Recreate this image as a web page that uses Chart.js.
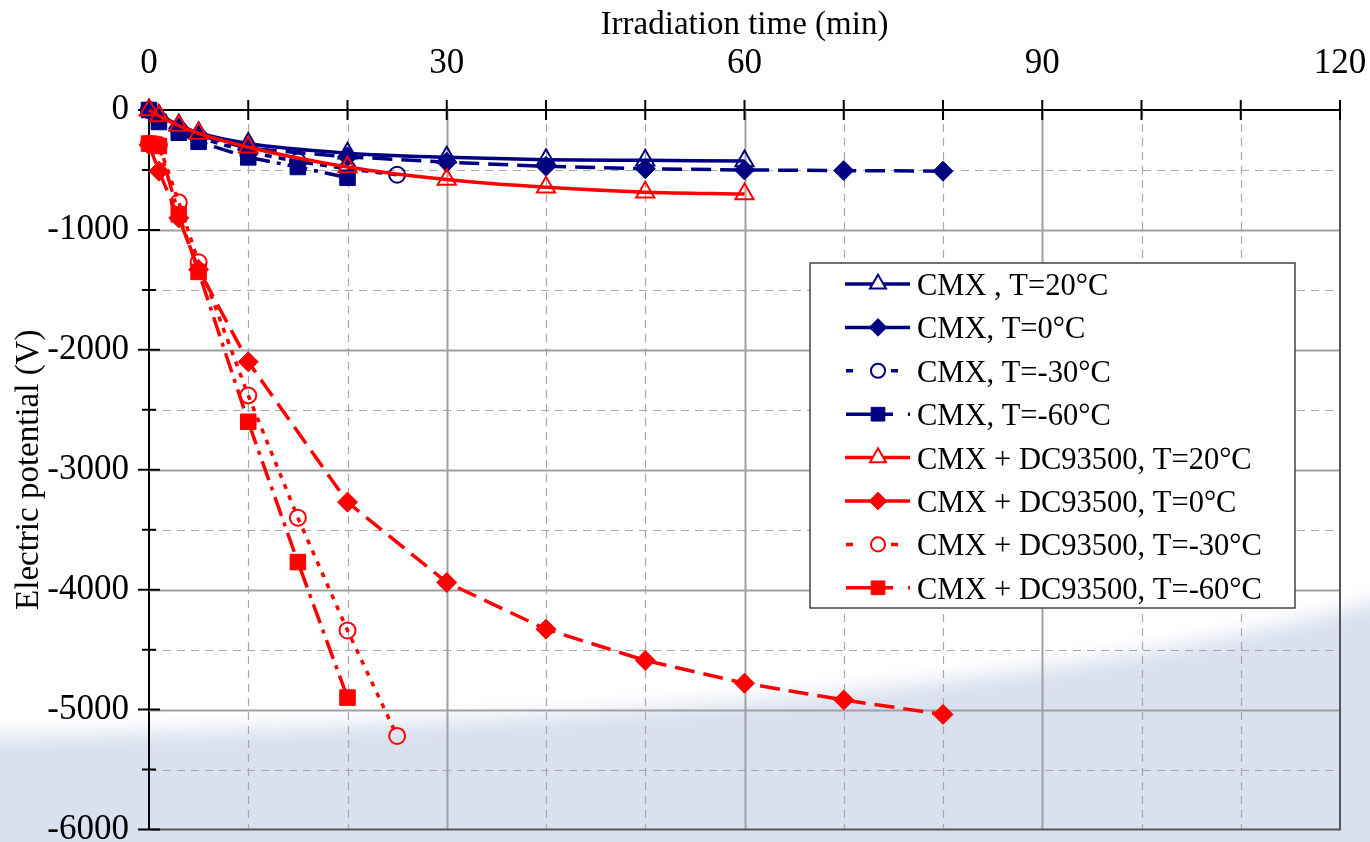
<!DOCTYPE html>
<html>
<head>
<meta charset="utf-8">
<title>Electric potential vs irradiation time</title>
<script src="https://cdn.jsdelivr.net/npm/chart.js@4.4.0/dist/chart.umd.min.js"></script>
<style>
  html, body { margin: 0; padding: 0; background: #fff; }
  #wrap { position: relative; width: 1370px; height: 842px; overflow: hidden; }
  #bg, #chart { position: absolute; left: 0; top: 0; }
</style>
</head>
<body>
<div id="wrap">
  <!-- slide background: soft blue sweep at the bottom -->
  <svg id="bg" width="1370" height="842">
    <defs>
      <filter id="soft" x="-10%" y="-20%" width="120%" height="140%"><feGaussianBlur stdDeviation="10"/></filter>
    </defs>
    <path d="M-60,738 C 500,724 1050,702 1430,586 L1430,920 L-60,920 Z" fill="#d9e0ee" filter="url(#soft)"/>
  </svg>
  <canvas id="chart" width="1370" height="842"></canvas>
</div>
<script>
const FONT = "'Liberation Serif', 'Times New Roman', serif";
const NAVY = '#000080';
const RED = '#ff0000';

// --- Data (time in min, potential in V) ---
const timeT20 = [0, 1, 3, 5, 10, 20, 30, 40, 50, 60];
const timeT0 = [0, 1, 3, 5, 10, 20, 30, 40, 50, 60, 70, 80];
const timeTm30 = [0, 1, 3, 5, 10, 15, 20, 25];
const timeTm60 = [0, 1, 3, 5, 10, 15, 20];

const cmxT20 = [0, -45, -125, -190, -280, -360, -395, -415, -420, -425];
const cmxT0 = [0, -70, -150, -210, -320, -390, -435, -470, -490, -500, -505, -510];
const cmxTm30 = [0, -80, -160, -230, -350, -430, -490, -540];
const cmxTm60 = [0, -100, -190, -265, -395, -475, -565];

const dcT20 = [0, -50, -130, -195, -310, -475, -580, -645, -685, -700];
const dcT0 = [-290, -510, -900, -1330, -2100, -3270, -3940, -4330, -4590, -4780, -4920, -5040];
const dcTm30 = [-280, -290, -770, -1270, -2380, -3400, -4340, -5220];
const dcTm60 = [-280, -300, -870, -1350, -2600, -3770, -4900];

const xTicks = [0, 30, 60, 90, 120];
const yTicks = [0, -1000, -2000, -3000, -4000, -5000, -6000];

// --- Series styling ---
const series = [
    { label: 'CMX , T=20°C', time: timeT20, values: cmxT20, color: NAVY, marker: 'triangle', radius: 10.5, open: true, dash: [], smooth: true, legend: 'solid' },
    { label: 'CMX, T=0°C', time: timeT0, values: cmxT0, color: NAVY, marker: 'rectRot', radius: 10, open: false, dash: [20, 9], smooth: false, legend: 'solid' },
    { label: 'CMX, T=-30°C', time: timeTm30, values: cmxTm30, color: NAVY, marker: 'circle', radius: 8, open: true, dash: [7, 7], smooth: false, legend: 'dot' },
    { label: 'CMX, T=-60°C', time: timeTm60, values: cmxTm60, color: NAVY, marker: 'rect', radius: 11, open: false, dash: [20, 7, 4, 7], smooth: false, legend: 'dashdot' },
    { label: 'CMX + DC93500, T=20°C', time: timeT20, values: dcT20, color: RED, marker: 'triangle', radius: 10.5, open: true, dash: [], smooth: true, legend: 'solid' },
    { label: 'CMX + DC93500, T=0°C', time: timeT0, values: dcT0, color: RED, marker: 'rectRot', radius: 10, open: false, dash: [20, 9], smooth: false, legend: 'solid' },
    { label: 'CMX + DC93500, T=-30°C', time: timeTm30, values: dcTm30, color: RED, marker: 'circle', radius: 8, open: true, dash: [5, 7], smooth: false, legend: 'dot' },
    { label: 'CMX + DC93500, T=-60°C', time: timeTm60, values: dcTm60, color: RED, marker: 'rect', radius: 11, open: false, dash: [20, 7, 4, 7], smooth: false, legend: 'dashdot' }
];

const datasets = series.map((s, i) => ({
    label: s.label,
    data: s.time.map((t, k) => ({ x: t, y: s.values[k] })),
    borderColor: s.color,
    backgroundColor: s.color,
    borderWidth: 3.5,
    borderDash: s.dash,
    pointStyle: s.marker,
    pointRadius: s.radius,
    pointBorderWidth: s.open ? 2 : 1,
    pointBackgroundColor: s.open ? 'rgba(0,0,0,0)' : s.color,
    pointBorderColor: s.color,
    tension: s.smooth ? 0.4 : 0,
    cubicInterpolationMode: s.smooth ? 'monotone' : 'default',
    clip: false,
    order: series.length - i   // later series on top, like the original
}));

// --- Grid lines, frame and crossing tick marks ---
const gridPlugin = {
    id: 'excelGrid',
    beforeDatasetsDraw(chart) {
        const { ctx, chartArea: a, scales: { x, y } } = chart;
        ctx.save();
        for (let v = 10; v < 120; v += 10) {
            const px = Math.round(x.getPixelForValue(v)) + 0.5;
            const major = v % 30 === 0;
            ctx.beginPath();
            ctx.strokeStyle = major ? '#a0a0a0' : '#a8a8a8';
            ctx.lineWidth = major ? 2 : 1.2;
            ctx.setLineDash(major ? [] : [8, 6]);
            ctx.moveTo(px, a.top);
            ctx.lineTo(px, a.bottom);
            ctx.stroke();
        }
        for (let v = -500; v > -6000; v -= 500) {
            const py = Math.round(y.getPixelForValue(v)) + 0.5;
            const major = v % 1000 === 0;
            ctx.beginPath();
            ctx.strokeStyle = major ? '#a0a0a0' : '#a8a8a8';
            ctx.lineWidth = major ? 2 : 1.2;
            ctx.setLineDash(major ? [] : [8, 6]);
            ctx.moveTo(a.left, py);
            ctx.lineTo(a.right, py);
            ctx.stroke();
        }
        // right and bottom frame
        ctx.setLineDash([]);
        ctx.strokeStyle = '#555';
        ctx.lineWidth = 2;
        ctx.beginPath();
        ctx.moveTo(a.right, a.top);
        ctx.lineTo(a.right, a.bottom);
        ctx.lineTo(a.left, a.bottom);
        ctx.stroke();
        // tick marks crossing the axes
        ctx.strokeStyle = '#000';
        ctx.lineWidth = 2;
        ctx.beginPath();
        for (let v = 0; v <= 120; v += 10) {
            const px = x.getPixelForValue(v);
            ctx.moveTo(px, a.top - 10);
            ctx.lineTo(px, a.top + 10);
        }
        for (let v = 0; v >= -6000; v -= 500) {
            const py = y.getPixelForValue(v);
            const len = v % 1000 === 0 ? 11 : 7;
            ctx.moveTo(a.left - len, py);
            ctx.lineTo(a.left + len, py);
        }
        ctx.stroke();
        ctx.restore();
    }
};

// --- Legend box inside the plot ---
const legendPlugin = {
    id: 'excelLegend',
    afterDraw(chart) {
        const ctx = chart.ctx;
        const box = { left: 810, top: 263, width: 485, height: 345 };
        const rowGap = 43.4;
        const mx = 878;
        ctx.save();
        ctx.fillStyle = '#fff';
        ctx.fillRect(box.left, box.top, box.width, box.height);
        ctx.strokeStyle = '#444';
        ctx.lineWidth = 1.5;
        ctx.strokeRect(box.left, box.top, box.width, box.height);

        const segs = {
            solid: [[-33, 32]],
            dot: [[-32, -25], [13, 20]],
            dashdot: [[-32, 15], [30, 32]]
        };
        series.forEach((s, i) => {
            const cy = box.top + 21 + i * rowGap;
            ctx.strokeStyle = s.color;
            ctx.lineWidth = 3.5;
            ctx.setLineDash([]);
            ctx.beginPath();
            segs[s.legend].forEach(([a, b]) => { ctx.moveTo(mx + a, cy); ctx.lineTo(mx + b, cy); });
            ctx.stroke();
            ctx.fillStyle = s.open ? '#fff' : s.color;
            ctx.lineWidth = s.open ? 2 : 1;
            Chart.helpers.drawPoint(ctx, {
                pointStyle: s.marker, radius: s.radius * 0.88, rotation: 0, borderWidth: s.open ? 2 : 1
            }, mx, cy);
            ctx.fillStyle = '#000';
            ctx.font = '30.5px ' + FONT;
            ctx.textAlign = 'left';
            ctx.textBaseline = 'middle';
            ctx.fillText(s.label, 917, cy + 3);
        });
        ctx.restore();
    }
};

new Chart(document.getElementById('chart'), {
    type: 'line',
    data: { datasets },
    options: {
        responsive: false,
        animation: false,
        devicePixelRatio: 1,
        layout: { padding: { top: 0, left: 0, right: 30, bottom: 12 } },
        plugins: { legend: { display: false }, tooltip: { enabled: false } },
        scales: {
            x: {
                type: 'linear',
                position: 'top',
                min: 0,
                max: 120,
                afterBuildTicks: sc => { sc.ticks = xTicks.map(v => ({ value: v })); },
                afterFit: sc => { sc.height = 110; sc.paddingLeft = 0; sc.paddingRight = 0; },
                grid: { display: false, drawTicks: false },
                border: { display: true, color: '#000', width: 2 },
                ticks: { font: { family: FONT, size: 35 }, color: '#000', padding: 25, maxRotation: 0, autoSkip: false },
                title: { display: true, text: 'Irradiation time (min)', color: '#000', font: { family: FONT, size: 33 }, padding: { top: 6, bottom: 0 } }
            },
            y: {
                type: 'linear',
                min: -6000,
                max: 0,
                afterBuildTicks: sc => { sc.ticks = yTicks.map(v => ({ value: v })); },
                afterFit: sc => { sc.width = 149; sc.paddingTop = 0; sc.paddingBottom = 0; },
                grid: { display: false, drawTicks: false },
                border: { display: true, color: '#000', width: 2 },
                ticks: { font: { family: FONT, size: 35 }, color: '#000', padding: 20, autoSkip: false, callback: v => String(v) },
                title: { display: true, text: 'Electric potential (V)', color: '#000', font: { family: FONT, size: 33 }, padding: { top: 10, bottom: 0 } }
            }
        }
    },
    plugins: [gridPlugin, legendPlugin]
});
</script>
</body>
</html>
